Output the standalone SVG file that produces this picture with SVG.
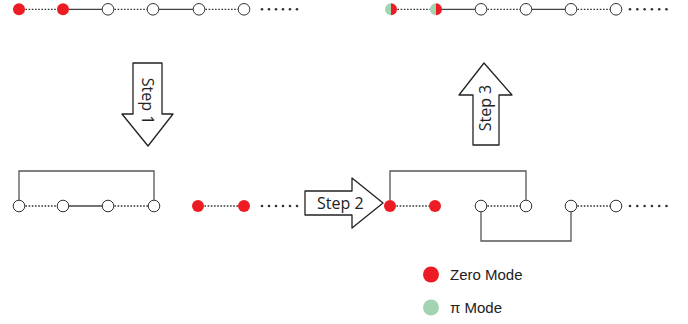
<svg xmlns="http://www.w3.org/2000/svg" width="688" height="324" viewBox="0 0 688 324">
<defs>
<style>
.ln{stroke:#444;stroke-width:1.3;fill:none}
.dt{stroke:#333;stroke-width:1.3;stroke-dasharray:1.6 1.6;fill:none}
.br{stroke:#555;stroke-width:1.3;fill:none}
.on{fill:#fff;stroke:#333;stroke-width:1}
.rn{fill:#ED1C24}
.gn{fill:#A3D4B1}
.dot{fill:#333}
.ar{fill:#fff;stroke:#222;stroke-width:1.3;stroke-linejoin:round}
.st{font-family:"Open Sans","Liberation Sans",sans-serif;font-size:16px;fill:#222}
.lg{font-family:"Liberation Sans",Arial,sans-serif;font-size:15px;fill:#222}
</style>
</defs>
<g id="connectors">
<line class="dt" x1="19" y1="9.3" x2="63" y2="9.3"/>
<line class="ln" x1="63" y1="9.3" x2="108" y2="9.3"/>
<line class="dt" x1="108" y1="9.3" x2="153" y2="9.3"/>
<line class="ln" x1="153" y1="9.3" x2="199" y2="9.3"/>
<line class="dt" x1="199" y1="9.3" x2="244" y2="9.3"/>
<line class="dt" x1="391" y1="9.3" x2="436" y2="9.3"/>
<line class="ln" x1="436" y1="9.3" x2="481" y2="9.3"/>
<line class="dt" x1="481" y1="9.3" x2="526" y2="9.3"/>
<line class="ln" x1="526" y1="9.3" x2="571" y2="9.3"/>
<line class="dt" x1="571" y1="9.3" x2="616" y2="9.3"/>
<line class="dt" x1="19" y1="206" x2="63" y2="206"/>
<line class="ln" x1="63" y1="206" x2="108" y2="206"/>
<line class="dt" x1="108" y1="206" x2="154" y2="206"/>
<polyline class="br" points="19,200 19,171 154,171 154,200"/>
<line class="dt" x1="198" y1="206" x2="244" y2="206"/>
<line class="dt" x1="390" y1="206" x2="435" y2="206"/>
<line class="dt" x1="481" y1="206" x2="526" y2="206"/>
<line class="dt" x1="571" y1="206" x2="616" y2="206"/>
<polyline class="br" points="390,200 390,171 526,171 526,200"/>
<polyline class="br" points="481,212 481,241 571,241 571,212"/>
</g>
<g id="chain-top-left">
<circle class="rn" cx="19" cy="9.3" r="6"/>
<circle class="rn" cx="63" cy="9.3" r="6"/>
<circle class="on" cx="108" cy="9.3" r="5.8"/>
<circle class="on" cx="153" cy="9.3" r="5.8"/>
<circle class="on" cx="199" cy="9.3" r="5.8"/>
<circle class="on" cx="244" cy="9.3" r="5.8"/>
<g class="dot"><circle cx="262" cy="9.3" r="1.3"/><circle cx="269" cy="9.3" r="1.3"/><circle cx="276" cy="9.3" r="1.3"/><circle cx="283" cy="9.3" r="1.3"/><circle cx="290" cy="9.3" r="1.3"/><circle cx="297" cy="9.3" r="1.3"/></g>
</g>
<g id="chain-top-right">
<path class="gn" d="M391,3.3 A6,6 0 0 0 391,15.3 Z"/>
<path class="rn" d="M391,3.3 A6,6 0 0 1 391,15.3 Z"/>
<path class="gn" d="M436,3.3 A6,6 0 0 0 436,15.3 Z"/>
<path class="rn" d="M436,3.3 A6,6 0 0 1 436,15.3 Z"/>
<circle class="on" cx="481" cy="9.3" r="5.8"/>
<circle class="on" cx="526" cy="9.3" r="5.8"/>
<circle class="on" cx="571" cy="9.3" r="5.8"/>
<circle class="on" cx="616" cy="9.3" r="5.8"/>
<g class="dot"><circle cx="630" cy="9.3" r="1.3"/><circle cx="637.3" cy="9.3" r="1.3"/><circle cx="644.6" cy="9.3" r="1.3"/><circle cx="651.9" cy="9.3" r="1.3"/><circle cx="659.2" cy="9.3" r="1.3"/><circle cx="666.5" cy="9.3" r="1.3"/></g>
</g>
<g id="chain-mid-left">
<circle class="on" cx="19" cy="206" r="5.8"/>
<circle class="on" cx="63" cy="206" r="5.8"/>
<circle class="on" cx="108" cy="206" r="5.8"/>
<circle class="on" cx="154" cy="206" r="5.8"/>
<circle class="rn" cx="198" cy="206" r="6"/>
<circle class="rn" cx="244" cy="206" r="6"/>
<g class="dot"><circle cx="262" cy="206" r="1.3"/><circle cx="269" cy="206" r="1.3"/><circle cx="276" cy="206" r="1.3"/><circle cx="283" cy="206" r="1.3"/><circle cx="290" cy="206" r="1.3"/><circle cx="297" cy="206" r="1.3"/></g>
</g>
<g id="chain-mid-right">
<circle class="rn" cx="390" cy="206" r="6"/>
<circle class="rn" cx="435" cy="206" r="6"/>
<circle class="on" cx="481" cy="206" r="5.8"/>
<circle class="on" cx="526" cy="206" r="5.8"/>
<circle class="on" cx="571" cy="206" r="5.8"/>
<circle class="on" cx="616" cy="206" r="5.8"/>
<g class="dot"><circle cx="630" cy="206" r="1.3"/><circle cx="637.3" cy="206" r="1.3"/><circle cx="644.6" cy="206" r="1.3"/><circle cx="651.9" cy="206" r="1.3"/><circle cx="659.2" cy="206" r="1.3"/><circle cx="666.5" cy="206" r="1.3"/></g>
</g>
<g id="step1">
<path class="ar" d="M133,63 L162,63 L162,114 L173,114 L148,146 L122,114 L133,114 Z"/>
<text class="st" transform="translate(142,101) rotate(90)" text-anchor="middle">Step 1</text>
</g>
<g id="step2">
<path class="ar" d="M305,191 L352,191 L352,178 L383,203 L352,228 L352,215 L305,215 Z"/>
<text class="st" x="317" y="208.5">Step 2</text>
</g>
<g id="step3">
<path class="ar" d="M473,145 L473,95 L459,95 L484,63 L512,95 L499,95 L499,145 Z"/>
<text class="st" transform="translate(491,108) rotate(-90)" text-anchor="middle">Step 3</text>
</g>
<g id="legend">
<circle class="rn" cx="431" cy="274.5" r="8"/>
<text class="lg" x="450" y="279.5">Zero Mode</text>
<circle class="gn" cx="431" cy="307.5" r="8"/>
<text class="lg" x="450" y="312.5">π Mode</text>
</g>
</svg>
